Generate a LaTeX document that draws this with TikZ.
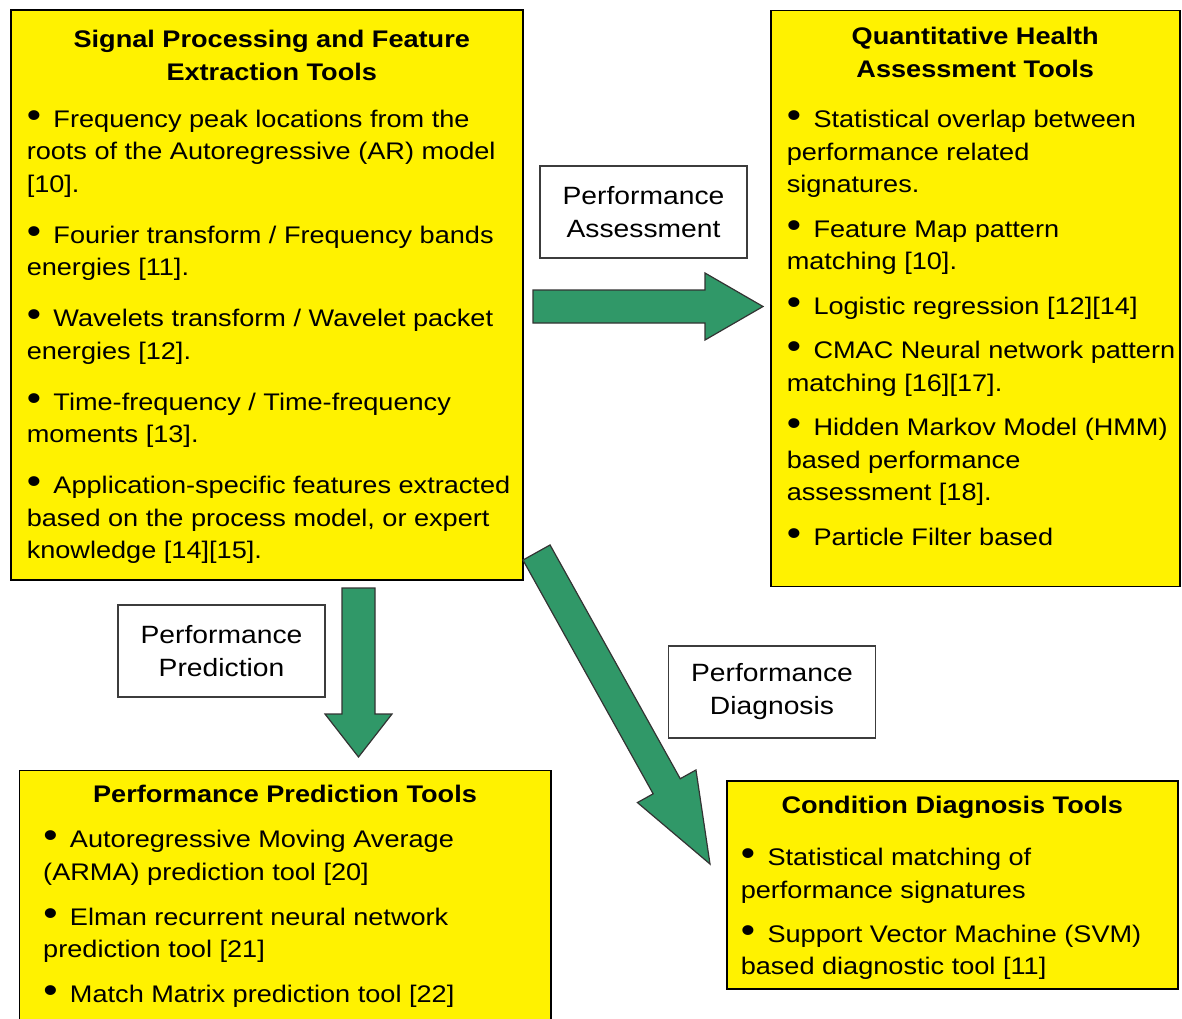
\documentclass[tikz,border=0pt]{standalone}
\usepackage{fontspec}
\setmainfont{Liberation Sans}[FakeStretch=1.13]
\usepackage{tikz}
\usetikzlibrary{calc}

\definecolor{arrowgreen}{RGB}{48,152,104}
\definecolor{tagline}{RGB}{60,60,60}

\tikzset{
  toolbox/.style={draw=black, line width=1.5pt, fill=yellow, inner sep=0pt, anchor=north west, font=\fontsize{24}{32.5}\selectfont},
  tagbox/.style={draw=tagline, line width=1.5pt, fill=white, minimum width=207pt, minimum height=92pt, align=center, font=\fontsize{25}{33}\selectfont},
  arrowbody/.style={fill=arrowgreen, draw=black!80, line width=1.2pt, line join=miter}
}

\newcommand{\bul}[1]{\par\vspace{#1}\scalebox{1.5}{\textbullet}\hspace{12.5pt}}
\newcommand{\fatarrow}[5]{%
  \coordinate (hb) at ($(#2)!#3!(#1)$);
  \draw[arrowbody] ($(#1)!#4!90:(#2)$) -- ($(hb)!#4!90:(#2)$) -- ($(hb)!#5!90:(#2)$) -- (#2)
    -- ($(hb)!#5!-90:(#2)$) -- ($(hb)!#4!-90:(#2)$) -- ($(#1)!#4!-90:(#2)$) -- cycle;}

\begin{document}
\begin{tikzpicture}[x=1pt, y=-1pt]

    \useasboundingbox (0,0) rectangle (1182,1018);
    \clip (0,0) rectangle (1182,1018);

    \node[toolbox] (sigbox) at (10,9) {\parbox[t][570pt][t]{512pt}{\leftskip=16pt
      {\centering\bfseries\rule{0pt}{38pt}\hspace{10pt}Signal Processing and Feature\\ \hspace{10pt}Extraction Tools\par}
      \bul{14.5pt}Frequency peak locations from the\\ roots of the Autoregressive (AR) model\\ {[10]}.
      \bul{18.5pt}Fourier transform / Frequency bands\\ energies [11].
      \bul{18.5pt}Wavelets transform / Wavelet packet\\ energies [12].
      \bul{18.5pt}Time-frequency / Time-frequency\\ moments [13].
      \bul{18.5pt}Application-specific features extracted\\ based on the process model, or expert\\ knowledge [14][15].}};

    \node[toolbox] (healthbox) at (770,9.5) {\parbox[t][576pt][t]{409pt}{\leftskip=16pt
      {\centering\bfseries\rule{0pt}{34.5pt}Quantitative Health\\ Assessment Tools\par}
      \bul{18pt}Statistical overlap between\\ performance related\\ signatures.
      \bul{12pt}Feature Map pattern\\ matching [10].
      \bul{12pt}Logistic regression [12][14]
      \bul{12pt}CMAC Neural network pattern\\ matching [16][17].
      \bul{12pt}Hidden Markov Model (HMM)\\ based performance\\ assessment [18].
      \bul{12pt}Particle Filter based}};

    \node[toolbox] (predictbox) at (18.5,769.5) {\parbox[t][280pt][t]{531.5pt}{\leftskip=24pt
      {\centering\bfseries\rule{0pt}{32.5pt}Performance Prediction Tools\par}
      \bul{12.5pt}Autoregressive Moving Average\\ (ARMA) prediction tool [20]
      \bul{12.5pt}Elman recurrent neural network\\ prediction tool [21]
      \bul{12.5pt}Match Matrix prediction tool [22]}};

    \node[toolbox] (diagbox) at (726,780) {\parbox[t][208pt][t]{451pt}{\leftskip=14pt
      {\centering\bfseries\rule{0pt}{33pt}Condition Diagnosis Tools\par}
      \bul{19.5pt}Statistical matching of\\ performance signatures
      \bul{11.5pt}Support Vector Machine (SVM)\\ based diagnostic tool [11]}};

    \node[tagbox] (assesstag) at (643.5,212) {Performance\\Assessment};
    \node[tagbox] (predicttag) at (221.5,651) {Performance\\Prediction};
    \node[tagbox] (diagtag) at (772,692) {Performance\\Diagnosis};

    \coordinate (assessfrom) at (533,306.5);
    \coordinate (assessto) at (763,306.5);
    \fatarrow{assessfrom}{assessto}{58pt}{16.5pt}{33.5pt}

    \coordinate (predictfrom) at (358.5,588);
    \coordinate (predictto) at (358.5,757);
    \fatarrow{predictfrom}{predictto}{43pt}{16.5pt}{33.5pt}

    \coordinate (diagfrom) at (536.5,552.5);
    \coordinate (diagto) at (710,864);
    \fatarrow{diagfrom}{diagto}{89pt}{15.5pt}{33.5pt}

\end{tikzpicture}
\end{document}
